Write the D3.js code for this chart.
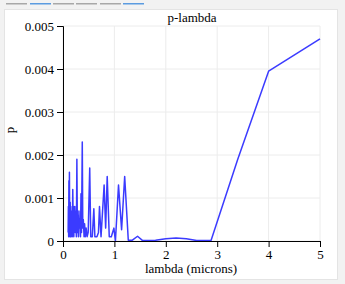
<!DOCTYPE html>
<html><head><meta charset="utf-8">
<script src="https://cdn.jsdelivr.net/npm/d3@7"></script>
<style>
html,body{margin:0;padding:0;background:#f2f2f2;width:345px;height:284px;overflow:hidden;}
svg{display:block;}
</style></head><body>
<svg id="c" width="345" height="284"></svg>
<script>
const lambda = [0.10,0.105,0.11,0.115,0.12,0.125,0.13,0.135,0.14,0.145,0.15,0.155,0.16,0.17,0.175,0.18,0.19,0.20,0.205,0.21,0.22,0.23,0.24,0.25,0.26,0.27,0.28,0.29,0.30,0.31,0.32,0.33,0.34,0.35,0.36,0.375,0.385,0.395,0.41,0.42,0.435,0.45,0.47,0.49,0.52,0.54,0.57,0.60,0.62,0.66,0.69,0.71,0.74,0.80,0.83,0.86,0.90,0.94,0.99,1.02,1.08,1.14,1.20,1.27,1.35,1.45,1.55,1.8,2.0,2.2,2.4,2.6,2.88,3.4,4.0,5.0];
const p = [0.0002,0.0008,0.0001,0.0014,0.0003,0.0016,0.0005,0.0001,0.0009,0.0003,0.0008,0.0001,0.0006,0.0002,0.0007,0.0001,0.0012,0.0003,0.0008,0.0001,0.0005,0.0008,0.0002,0.0007,0.0001,0.0019,0.0002,0.0006,0.0001,0.0007,0.0003,0.0005,0.0001,0.0011,0.0002,0.0023,0.0003,0.0005,0.0001,0.0004,0.0001,0.0003,0.0001,0.0002,0.0017,0.0001,0.0001,0.00075,0.0001,0.0001,0.0002,0.0008,0.0001,0.0013,0.0003,0.0015,0.0001,0.0001,0.0003,0.0000,0.0013,0.00026,0.0015,0.00002,0.00002,0.00011,0.00001,0.00002,0.00005,0.00007,0.00005,0.00001,0.00001,0.0019,0.00395,0.0047];
const xTicks = [0,1,2,3,4,5];
const yTicks = [0,0.001,0.002,0.003,0.004,0.005];
const yTickLabels = ["0","0.001","0.002","0.003","0.004","0.005"];
const title = "p-lambda";
const xLabel = "lambda (microns)";
const yLabel = "p";

const svg = d3.select("#c");
// tabs
const tabs = [{x:6,w:21,c:"#a8a8a8"},{x:30,w:21,c:"#5b9be0"},{x:53,w:21,c:"#a8a8a8"},{x:76,w:21,c:"#a8a8a8"},{x:100,w:21,c:"#a8a8a8"},{x:123,w:21,c:"#5b9be0"}];
svg.selectAll("rect.tab").data(tabs).enter().append("rect")
  .attr("x",d=>d.x).attr("y",3).attr("width",d=>d.w).attr("height",1.5).attr("fill",d=>d.c);
// panel
svg.append("rect").attr("x",4.5).attr("y",9.5).attr("width",333).attr("height",270)
  .attr("fill","#fff").attr("stroke","#e4e4e4");

const m = {l:63,r:320,t:26,b:241};
const x = d3.scaleLinear().domain([0,5]).range([m.l,m.r]);
const y = d3.scaleLinear().domain([0,0.005]).range([m.b,m.t]);

const g = svg.append("g");
g.selectAll("line.gx").data(xTicks).enter().append("line")
  .attr("x1",d=>x(d)).attr("x2",d=>x(d)).attr("y1",m.t).attr("y2",m.b)
  .attr("stroke","#ececec");
g.selectAll("line.gy").data(yTicks).enter().append("line")
  .attr("x1",m.l).attr("x2",m.r).attr("y1",d=>y(d)).attr("y2",d=>y(d))
  .attr("stroke","#ececec");

const font = "'Liberation Serif','Times New Roman',serif";
const line = d3.line().x((d,i)=>x(lambda[i])).y(d=>y(d));
svg.append("path").datum(p).attr("d",line).attr("fill","none")
  .attr("stroke","#3b3bff").attr("stroke-width",1.5).attr("stroke-linejoin","round");

const xa = svg.append("g").attr("transform",`translate(0,${m.b})`)
  .call(d3.axisBottom(x).tickValues(xTicks).tickFormat(d3.format("d")));
const ya = svg.append("g").attr("transform",`translate(${m.l},0)`)
  .call(d3.axisLeft(y).tickValues(yTicks).tickFormat((d,i)=>yTickLabels[i]));
[xa,ya].forEach(a=>{a.selectAll("text").attr("font-family",font).attr("font-size",13).attr("fill","#000");
  a.selectAll("line,path").attr("stroke","#000");});

svg.append("text").attr("x",192).attr("y",22).attr("text-anchor","middle")
  .attr("font-family",font).attr("font-size",13).text(title);
svg.append("text").attr("x",191).attr("y",273).attr("text-anchor","middle")
  .attr("font-family",font).attr("font-size",13).text(xLabel);
svg.append("text").attr("transform","translate(14,130) rotate(-90)").attr("text-anchor","middle")
  .attr("font-family",font).attr("font-size",13).text(yLabel);
</script></body></html>
